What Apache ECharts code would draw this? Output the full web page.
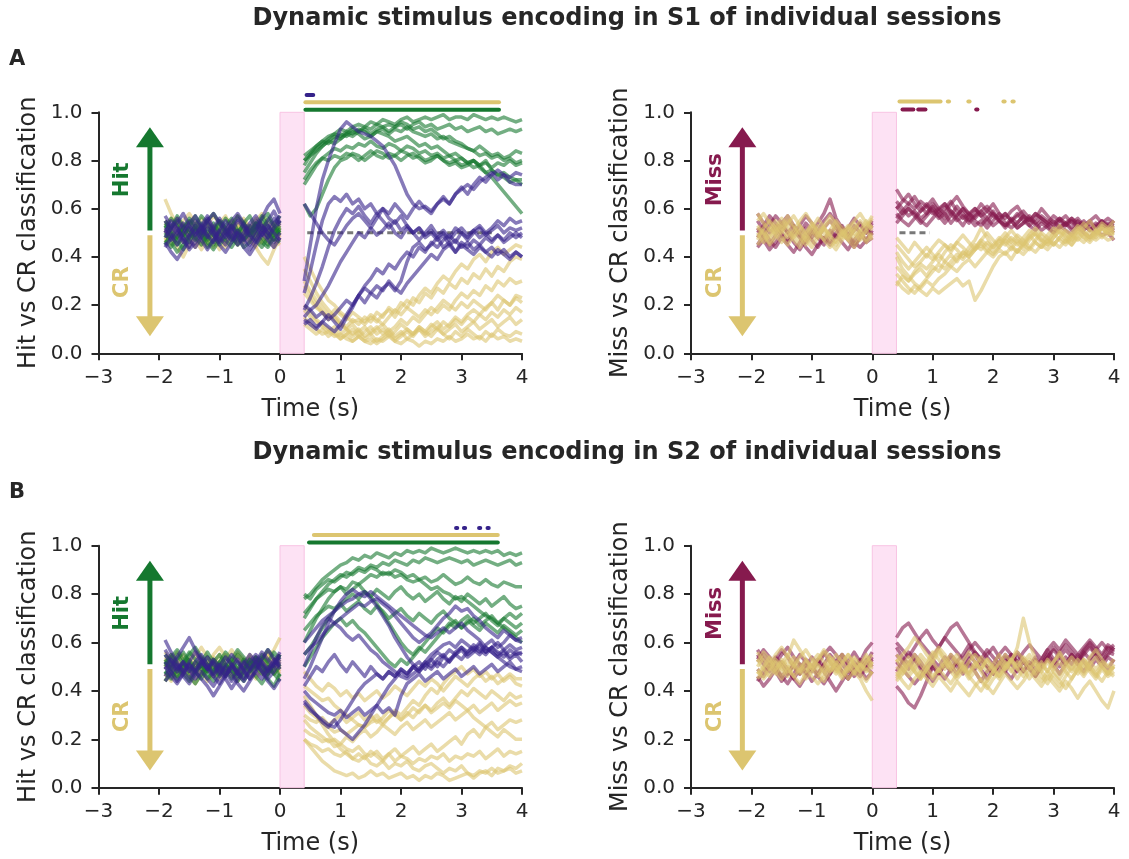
<!DOCTYPE html>
<html>
<head>
<meta charset="utf-8">
<script src="https://cdn.jsdelivr.net/npm/echarts@6/dist/echarts.min.js"></script>
<style>
  html, body { margin: 0; padding: 0; background: #fff; }
  #chart { width: 1129px; height: 859px; }
</style>
</head>
<body>
<div id="chart"></div>
<script>
// time grids (s): before stimulus and after the 0-0.4 s window
const T_PRE = [-1.9,-1.8,-1.7,-1.6,-1.5,-1.4,-1.3,-1.2,-1.1,-1.0,-0.9,-0.8,-0.7,-0.6,-0.5,-0.4,-0.3,-0.2,-0.1,0];
const T_POST = [0.4,0.5,0.6,0.7,0.8,0.9,1.0,1.1,1.2,1.3,1.4,1.5,1.6,1.7,1.8,1.9,2.0,2.1,2.2,2.3,2.4,2.5,2.6,2.7,2.8,2.9,3.0,3.1,3.2,3.3,3.4,3.5,3.6,3.7,3.8,3.9,4.0];

// values are classification in percent
// ---- S1, Hit vs CR
const S1_HIT_GREEN_PRE = [
  [48,52,55,50,46,51,54,49,45,50,53,56,51,47,50,54,52,48,51,55],
  [53,49,45,48,53,57,52,47,50,55,51,46,49,54,57,52,48,45,50,53],
  [45,50,47,43,48,52,49,44,47,52,56,53,48,44,46,51,55,50,47,52],
  [55,52,57,53,50,47,51,55,58,54,50,53,57,54,49,52,56,58,53,57],
  [50,46,42,45,49,53,50,46,43,47,51,48,45,49,53,50,46,44,48,46],
  [52,56,53,49,52,48,45,49,54,50,47,44,48,52,49,53,57,53,49,51],
  [47,44,48,52,55,51,48,52,49,45,48,53,50,54,51,47,44,48,52,49],
  [54,51,48,52,56,53,57,54,51,55,52,48,51,47,50,54,51,56,53,50]
];
const S1_HIT_GREEN_POST = [
  [80,83,86,88,90,91,93,92,94,95,94,96,95,97,96,95,97,98,96,97,98,97,98,99,97,98,98,97,99,98,97,98,97,98,97,96,97],
  [75,79,83,86,88,90,89,91,93,92,94,93,95,94,92,94,95,93,95,96,94,95,93,94,95,93,94,92,93,94,92,93,91,92,93,92,93],
  [78,82,85,87,89,91,90,92,91,93,92,90,92,93,91,93,92,94,92,91,90,91,89,90,88,87,86,85,84,82,83,81,82,80,81,79,80],
  [70,74,78,81,83,85,84,86,85,87,86,88,86,85,87,86,84,86,85,83,84,82,83,81,82,80,81,79,80,78,79,77,79,78,80,78,79],
  [62,57,60,66,72,77,80,81,83,82,80,82,84,83,81,82,80,82,83,81,79,80,82,80,78,79,77,78,80,77,75,76,74,75,73,72,72],
  [82,84,86,88,87,89,91,90,92,91,89,90,92,91,90,88,89,90,88,86,87,85,86,84,82,83,81,79,80,78,75,73,70,67,64,61,58],
  [72,76,79,81,80,82,81,83,82,80,82,84,82,81,83,82,84,83,81,82,80,81,82,80,79,80,78,79,77,78,80,76,74,73,71,72,70],
  [80,82,84,86,88,87,89,91,90,92,93,91,93,94,95,94,96,95,93,94,92,93,91,89,90,88,87,85,84,86,84,82,83,81,82,84,83]
];
const S1_HIT_PURPLE_PRE = [
  [50,55,52,48,44,49,53,57,52,48,45,50,55,52,47,51,56,61,64,58],
  [46,42,39,43,47,44,48,52,49,45,42,46,50,47,43,47,51,48,52,55],
  [55,51,54,58,53,49,52,56,51,47,51,55,58,54,50,53,49,52,56,53],
  [44,48,52,47,43,46,50,54,50,46,49,53,49,44,41,45,49,53,50,47],
  [52,49,45,50,54,57,53,49,46,51,55,51,47,50,54,57,53,50,46,50],
  [57,53,50,46,49,53,50,55,58,54,50,47,51,48,45,49,53,50,54,57],
  [48,52,56,52,48,51,47,43,47,51,48,52,56,53,49,46,50,47,44,48],
  [51,47,50,54,51,55,52,48,52,56,52,49,45,48,52,55,51,55,59,54]
];
const S1_HIT_PURPLE_POST = [
  [30,45,60,72,80,87,93,96,94,92,91,90,88,86,82,78,72,66,62,60,61,59,62,64,62,66,68,70,68,71,73,75,72,74,71,70,70],
  [62,58,54,50,47,45,49,53,56,58,55,52,56,60,58,62,59,56,60,63,60,58,62,65,62,66,69,66,70,73,71,74,76,74,73,75,74],
  [15,18,20,24,28,33,38,42,46,50,48,52,49,51,54,50,48,52,50,47,50,53,49,51,48,52,50,47,50,52,49,51,53,50,52,51,52],
  [20,18,15,17,14,16,19,22,20,24,21,25,23,27,29,26,30,38,44,46,43,45,48,44,46,42,45,43,41,44,42,40,43,41,39,42,40],
  [12,14,11,13,16,13,10,15,19,24,28,31,35,33,37,35,39,42,40,44,42,46,44,47,49,46,50,48,51,53,50,52,55,53,56,54,55],
  [18,23,29,36,44,51,56,60,58,61,57,54,58,55,52,55,51,53,50,52,49,51,48,50,47,50,52,49,51,48,50,47,49,46,48,50,48],
  [25,34,45,55,62,65,63,66,62,64,60,62,58,60,56,54,57,53,50,52,48,50,47,49,45,47,44,46,43,45,42,44,41,43,40,42,40],
  [14,12,10,13,11,9,12,16,20,24,27,25,28,26,30,27,25,29,32,35,38,41,39,43,45,42,46,44,47,45,48,46,49,47,50,48,50]
];
const S1_HIT_YELLOW_PRE = [
  [64,58,53,49,52,48,45,49,53,50,46,50,54,51,47,44,40,37,43,48],
  [50,53,49,46,50,54,51,47,44,48,52,49,53,56,52,49,46,50,47,51],
  [46,50,54,51,55,52,49,53,50,47,51,55,52,48,51,55,58,54,51,53],
  [52,48,44,40,45,49,46,50,47,43,46,50,47,51,48,44,47,51,49,52],
  [55,52,56,53,49,52,56,53,57,54,50,53,49,46,50,53,50,46,50,54],
  [48,45,49,53,50,47,43,47,51,48,52,48,45,49,46,50,54,50,47,45],
  [53,56,52,49,53,49,52,55,51,48,44,48,52,55,52,56,52,49,52,48],
  [47,51,48,52,48,44,48,45,49,52,49,53,57,53,50,47,51,48,44,50],
  [51,47,51,55,58,54,51,47,50,54,57,52,48,51,47,50,46,50,54,51]
];
const S1_HIT_YELLOW_POST = [
  [40,35,30,26,22,20,17,15,13,14,12,15,13,16,18,15,19,22,20,24,27,25,29,32,30,34,37,35,39,41,38,42,44,41,43,45,44],
  [30,26,22,19,16,14,12,10,12,9,11,8,10,12,9,11,14,12,15,13,16,19,17,20,18,22,25,23,26,24,28,26,30,28,31,29,30],
  [20,17,14,12,10,8,6,8,5,7,5,6,4,6,8,5,7,9,7,10,8,11,13,10,12,15,13,16,18,16,19,21,18,22,20,24,23],
  [15,12,10,8,9,7,8,6,5,7,5,4,6,5,7,5,4,6,5,3,5,4,6,5,7,5,6,8,6,7,5,8,6,7,5,6,5],
  [25,22,19,17,15,18,16,14,17,15,13,16,14,12,15,18,16,19,17,15,18,16,19,22,20,18,21,19,22,20,18,21,24,22,20,23,21],
  [35,30,25,21,18,15,12,10,8,10,7,9,11,8,10,7,9,6,8,10,7,9,11,8,10,12,9,11,13,10,12,14,11,13,15,12,14],
  [12,10,8,10,7,9,6,8,10,7,9,11,8,10,7,9,12,10,8,11,9,7,10,8,6,9,7,10,8,6,9,7,10,8,7,9,8],
  [28,24,20,17,14,16,13,11,14,12,15,13,17,15,19,17,21,19,23,21,25,23,27,25,29,27,31,29,33,31,35,32,36,34,38,40,39],
  [18,15,13,11,9,11,8,10,7,9,6,8,5,7,9,6,8,10,8,11,9,12,10,13,11,14,12,15,13,16,14,17,15,18,16,19,17]
];

// ---- S1, Miss vs CR
const S1_MISS_MAROON_PRE = [
  [52,48,45,49,53,50,46,43,47,51,48,45,49,53,50,47,44,48,52,55],
  [45,49,53,57,54,50,53,49,46,50,54,58,64,56,52,49,53,50,47,51],
  [55,51,47,44,48,45,42,46,50,47,44,48,45,49,46,43,47,50,46,48],
  [48,52,55,51,54,57,53,50,54,51,48,52,55,52,49,52,56,53,50,54],
  [58,54,50,53,49,46,50,53,57,54,50,47,51,48,52,49,45,48,52,49],
  [44,47,43,46,50,47,51,48,44,41,45,48,46,50,53,49,46,44,47,50],
  [50,53,57,54,51,55,52,49,52,48,51,55,58,54,51,48,51,54,50,53]
];
const S1_MISS_MAROON_POST = [
  [68,64,62,60,63,61,58,60,62,59,57,60,58,56,59,61,58,56,58,55,57,59,56,54,57,55,53,56,54,52,55,53,51,54,52,53,55],
  [60,63,66,62,59,61,64,60,58,62,65,61,58,60,57,59,62,58,56,59,61,57,55,58,56,54,57,55,53,56,54,52,55,57,54,52,53],
  [56,59,62,65,61,58,62,59,56,59,56,53,57,60,57,54,58,55,52,55,58,55,53,56,60,57,54,56,53,55,52,54,51,53,55,52,50],
  [63,60,57,59,56,58,61,57,60,63,59,56,58,55,53,56,59,55,53,55,52,54,57,54,51,53,55,52,54,56,53,51,54,52,55,53,51],
  [54,57,60,58,55,53,56,59,62,58,55,57,54,57,59,56,53,55,58,55,52,54,56,53,55,53,50,52,54,51,53,55,52,50,52,54,53],
  [58,55,53,56,59,62,59,56,58,54,57,60,56,53,55,52,55,58,54,52,54,57,53,51,54,52,50,53,51,49,52,50,48,51,49,50,47],
  [61,58,60,57,54,57,60,57,54,57,61,58,55,58,62,59,57,55,53,56,54,57,55,58,56,54,52,55,57,54,56,53,55,52,54,56,54]
];
const S1_MISS_YELLOW_PRE = [
  [58,54,51,55,52,48,51,55,58,54,50,53,57,54,50,47,51,55,52,56],
  [47,51,48,52,56,53,49,46,50,53,49,52,48,45,49,52,48,51,47,50],
  [52,49,45,48,51,55,52,48,45,49,53,50,46,43,47,50,54,51,55,52],
  [45,48,52,49,46,50,47,44,48,52,56,52,49,53,50,47,44,48,51,47],
  [55,58,54,50,53,57,53,50,47,51,48,52,55,51,48,52,55,58,54,51],
  [50,46,49,53,50,54,57,53,49,46,50,47,44,47,51,48,52,49,46,49],
  [48,52,55,52,48,45,49,53,50,54,51,47,51,55,52,49,46,50,53,57],
  [53,50,46,50,54,51,48,51,47,44,48,52,49,46,50,53,50,47,51,53]
];
const S1_MISS_YELLOW_POST = [
  [30,27,25,28,26,24,27,25,27,29,31,28,30,22,26,31,36,40,42,39,43,41,44,42,45,43,46,44,47,45,48,46,49,47,49,47,48],
  [40,35,32,29,27,30,28,31,33,36,34,37,39,36,39,42,40,43,41,44,42,45,43,46,44,47,45,48,46,49,47,50,48,51,49,52,50],
  [45,42,39,36,38,41,39,42,45,43,46,44,41,44,47,45,42,45,48,46,49,47,44,47,50,48,45,48,51,49,52,50,47,50,53,51,52],
  [28,32,30,33,35,32,36,34,38,41,38,42,40,43,45,42,45,48,46,43,47,45,48,50,47,45,48,51,49,47,50,48,51,49,52,50,51],
  [48,45,42,46,43,40,44,47,45,42,46,49,46,43,47,50,47,44,48,51,48,45,49,52,49,46,50,53,50,47,51,54,51,48,52,50,49],
  [36,33,30,34,37,35,38,41,38,36,39,42,40,43,46,43,41,44,47,45,42,46,49,46,44,47,50,47,45,48,51,48,46,49,52,49,50],
  [42,38,35,38,41,44,41,38,42,45,43,40,44,47,52,48,44,47,45,48,46,43,47,50,47,45,48,51,48,45,49,52,55,51,48,51,53],
  [33,30,27,25,28,31,34,37,35,38,41,39,42,45,43,46,44,47,50,47,45,48,51,49,46,49,52,50,47,50,53,51,48,51,54,52,55]
];

// ---- S2, Hit vs CR
const S2_HIT_GREEN_PRE = [
  [52,49,53,56,52,48,45,49,53,50,54,51,47,44,48,52,49,45,42,47],
  [47,51,55,51,48,52,49,45,48,52,56,53,49,46,50,54,51,48,51,55],
  [55,52,48,51,55,58,54,51,47,50,47,51,55,52,48,51,55,52,56,53],
  [44,48,45,49,46,43,47,51,48,52,49,45,49,53,50,46,43,47,50,46],
  [50,54,57,53,50,47,51,48,52,55,51,48,44,48,52,49,53,57,54,50],
  [53,49,46,50,53,49,52,56,52,49,46,50,46,49,53,50,47,50,47,44],
  [48,45,49,52,56,53,50,54,50,46,50,53,57,54,50,54,51,47,51,55],
  [51,55,51,47,44,48,51,47,44,48,51,48,52,49,53,50,54,51,47,50]
];
const S2_HIT_GREEN_POST = [
  [78,80,83,86,88,90,92,93,95,94,96,95,97,96,95,97,96,98,97,98,97,99,98,97,98,99,98,97,98,97,98,97,98,96,97,96,97],
  [70,74,78,81,84,86,88,87,89,91,90,92,91,93,92,94,93,92,94,93,95,94,93,94,95,94,93,94,92,93,94,93,92,93,94,92,93],
  [60,65,70,74,78,81,83,82,85,84,86,88,87,89,88,90,89,87,88,86,87,85,86,88,86,84,85,87,85,84,86,84,83,85,84,83,83],
  [72,75,78,80,82,81,83,80,82,84,81,79,82,80,78,81,83,80,78,80,77,79,81,78,76,79,77,80,78,76,78,75,77,79,76,74,75],
  [55,58,62,66,70,73,76,78,80,78,81,79,76,72,68,64,60,57,55,58,56,59,62,65,68,66,69,71,68,70,72,69,67,70,68,66,68],
  [65,68,71,73,75,74,76,73,75,77,74,72,75,73,70,72,74,71,69,72,70,68,71,73,70,68,66,69,67,65,68,66,64,67,65,63,65],
  [80,78,82,84,86,85,87,89,88,90,89,91,90,88,89,87,88,86,85,86,84,82,83,81,80,78,79,77,75,73,71,70,68,66,64,62,60],
  [50,54,58,62,65,68,70,67,69,66,64,61,58,55,52,50,53,51,54,57,60,63,66,64,67,69,66,68,70,67,69,71,68,70,72,70,72]
];
const S2_HIT_PURPLE_PRE = [
  [61,56,52,48,45,49,53,50,46,43,47,51,48,45,49,53,50,47,51,55],
  [46,50,54,58,62,57,53,49,52,48,45,41,45,48,52,55,52,48,51,54],
  [52,48,44,47,51,48,45,42,38,42,46,50,47,44,48,51,48,44,41,45],
  [49,53,50,46,43,47,51,54,51,47,51,55,52,48,45,49,53,57,53,49],
  [55,51,48,52,49,45,48,45,42,46,50,47,43,40,44,48,45,49,52,56],
  [44,47,51,48,52,56,52,49,53,50,54,51,47,51,55,52,56,53,50,53],
  [50,46,43,47,51,48,52,49,46,50,46,50,53,49,45,48,52,49,53,50],
  [57,53,49,52,48,52,55,51,47,51,48,44,48,52,49,52,48,45,48,52]
];
const S2_HIT_PURPLE_POST = [
  [45,50,56,62,68,73,77,80,82,80,81,78,75,71,67,62,58,54,51,49,52,50,53,55,52,56,58,55,57,60,56,58,55,57,54,56,55],
  [35,32,30,27,25,28,24,22,20,23,26,30,34,38,42,45,48,46,50,48,51,53,50,54,52,55,57,54,56,59,56,58,60,57,59,57,58],
  [55,58,60,63,66,68,70,72,74,76,75,77,78,76,74,71,68,65,62,60,62,64,67,70,72,75,73,74,71,69,66,64,62,65,63,61,60],
  [40,37,35,33,31,30,32,29,31,33,30,32,34,31,33,30,38,43,45,47,44,46,48,45,47,49,46,48,50,47,49,51,48,50,52,49,50],
  [50,56,62,67,70,68,66,63,61,63,60,57,55,52,50,48,46,45,47,49,52,55,57,59,60,58,61,59,57,55,58,56,54,56,53,55,52],
  [36,33,30,28,26,25,28,32,36,40,43,45,47,45,48,46,49,47,50,48,51,49,52,50,53,55,53,56,58,56,59,61,58,60,63,61,62],
  [60,63,66,69,71,73,75,77,78,80,79,81,79,77,75,73,71,69,67,65,63,62,64,66,64,66,68,65,63,61,58,56,54,52,50,49,48],
  [42,46,50,48,52,55,51,48,52,49,46,50,47,45,48,46,49,47,50,52,49,53,56,54,57,55,58,56,59,57,55,58,56,54,57,55,56]
];
const S2_HIT_YELLOW_PRE = [
  [49,52,56,53,49,52,48,51,55,58,54,51,48,52,49,46,50,54,57,62],
  [53,50,46,49,53,56,52,49,53,50,47,51,55,52,48,45,49,52,49,53],
  [46,49,53,50,46,43,47,50,46,49,53,57,53,50,54,51,47,50,53,49],
  [56,52,48,51,47,50,54,51,48,45,49,52,48,51,55,52,49,53,50,47],
  [50,54,51,55,52,48,51,48,51,55,51,48,44,48,52,49,52,56,52,55],
  [44,48,52,49,53,50,47,50,54,50,47,51,54,51,47,50,53,50,47,51],
  [52,55,51,48,51,54,58,54,50,47,50,46,49,53,49,53,50,47,51,48],
  [47,44,48,51,48,45,48,52,49,52,55,52,56,53,50,54,51,55,52,49],
  [54,51,47,50,47,51,48,44,47,51,48,51,47,50,54,51,48,51,48,52]
];
const S2_HIT_YELLOW_POST = [
  [48,45,42,40,43,41,38,40,37,39,36,38,40,37,39,42,40,38,41,44,42,45,43,40,43,46,44,42,45,47,44,46,43,45,47,45,45],
  [28,25,23,21,19,20,18,21,19,22,24,21,23,26,24,22,25,27,24,26,28,25,27,29,31,28,30,32,34,31,33,35,32,34,36,34,35],
  [20,18,17,15,16,14,13,15,12,11,13,10,9,11,8,10,9,11,8,7,9,10,8,6,8,7,9,6,5,7,6,8,6,7,8,6,7],
  [38,34,30,26,22,19,16,14,12,14,12,15,13,11,14,16,13,15,17,14,16,18,15,17,19,21,18,22,24,21,25,27,24,26,28,27,28],
  [30,28,27,29,26,28,30,27,29,31,28,30,27,29,32,30,28,31,29,32,34,31,33,35,33,36,34,32,29,27,25,23,21,24,22,20,20],
  [24,22,21,19,20,17,18,16,15,17,14,13,15,12,14,11,13,12,10,12,11,13,12,14,11,13,12,14,13,15,12,14,16,13,15,14,15],
  [42,40,38,36,37,34,32,30,28,26,25,27,28,26,29,31,28,30,33,31,34,32,35,37,34,37,40,38,41,39,37,40,38,36,39,37,38],
  [20,17,14,11,9,7,6,5,6,4,5,7,5,6,4,5,6,4,5,3,5,4,6,5,3,4,5,6,4,6,7,5,8,7,9,8,10],
  [34,31,29,27,25,23,24,22,24,26,25,28,30,27,29,32,30,33,36,34,38,41,39,43,46,48,50,47,49,46,48,45,47,44,46,43,42]
];

// ---- S2, Miss vs CR
const S2_MISS_MAROON_PRE = [
  [53,57,54,50,46,49,45,42,46,50,47,51,48,52,55,51,48,52,57,60],
  [46,42,45,49,46,43,47,51,48,44,47,51,55,52,48,45,49,46,50,47],
  [57,53,50,54,51,47,51,55,52,49,52,48,44,40,44,48,51,48,52,56],
  [49,46,50,53,57,54,50,47,51,48,52,56,52,49,53,50,46,49,53,50],
  [52,55,52,48,44,47,51,47,50,54,51,55,58,55,51,48,52,49,45,48],
  [44,48,51,48,52,49,45,49,53,50,46,43,47,51,48,45,49,53,50,54],
  [55,51,48,51,55,58,54,51,47,50,53,50,47,51,55,52,56,52,49,53]
];
const S2_MISS_MAROON_POST = [
  [62,66,68,64,60,57,54,58,62,59,56,53,57,60,57,54,51,55,58,55,52,56,59,56,53,57,60,57,61,58,55,58,61,58,55,59,57],
  [42,39,35,33,38,44,50,47,51,55,52,48,52,49,53,50,47,51,54,51,48,52,49,46,50,53,50,54,57,54,51,55,58,55,52,56,55],
  [60,57,54,58,62,65,61,58,62,66,68,64,60,56,53,57,54,51,55,52,56,53,50,54,51,55,52,56,59,56,53,57,60,57,54,58,56],
  [55,52,49,53,50,47,51,48,45,49,52,49,53,56,53,50,47,51,48,52,55,52,49,53,50,54,57,54,51,55,52,56,59,55,52,55,58],
  [48,52,56,53,49,46,50,47,51,54,50,47,51,48,44,48,51,48,52,55,51,48,52,49,53,57,53,50,54,51,55,52,49,53,50,54,52],
  [58,54,51,55,52,48,44,48,51,48,52,55,59,55,51,55,58,54,51,55,52,48,51,47,51,54,51,47,51,55,52,56,53,57,60,57,59],
  [52,49,46,43,46,50,53,50,54,51,47,51,55,52,49,45,49,52,48,45,49,53,50,46,50,54,58,55,51,54,51,48,52,55,52,49,53]
];
const S2_MISS_YELLOW_PRE = [
  [50,54,51,55,58,54,61,57,53,50,53,57,54,50,46,50,47,51,48,52],
  [47,50,54,51,47,50,46,49,53,49,46,50,54,51,55,52,48,45,40,36],
  [53,49,46,49,53,50,54,51,48,52,55,52,48,51,47,50,54,51,55,51],
  [45,49,52,48,45,49,46,43,47,51,48,44,48,52,49,45,48,51,49,47],
  [56,52,49,53,50,46,50,54,57,53,50,47,51,55,52,55,51,48,52,55],
  [49,46,50,47,51,55,51,48,52,49,53,56,52,48,52,48,51,47,44,48],
  [52,56,53,49,52,48,52,49,45,48,51,48,52,49,45,49,53,50,54,50],
  [48,45,48,52,49,53,50,47,50,46,43,46,50,47,51,55,51,48,52,49]
];
const S2_MISS_YELLOW_POST = [
  [45,49,52,48,45,49,53,57,53,50,46,50,47,51,48,44,48,52,49,53,56,53,49,52,48,45,49,52,48,45,49,53,50,47,51,48,50],
  [52,55,58,62,59,55,52,56,52,49,53,50,47,50,54,51,48,51,55,52,58,70,60,53,49,53,50,47,51,54,51,48,52,49,52,50,49],
  [48,44,41,45,48,45,42,46,43,40,44,41,38,42,45,42,39,43,47,44,41,44,48,45,42,46,43,40,44,41,37,41,44,40,36,33,40],
  [55,52,48,51,55,52,56,53,49,52,55,51,48,52,49,53,50,46,50,53,50,54,51,47,51,48,52,56,52,49,53,50,54,57,53,50,53],
  [50,47,51,55,51,48,45,49,46,43,47,50,46,43,40,44,48,45,49,52,49,46,50,47,44,48,45,42,46,50,47,51,48,45,49,46,48],
  [46,50,54,50,47,51,55,58,55,51,48,52,56,52,49,53,49,46,50,53,49,52,55,51,48,52,48,45,49,52,49,53,49,46,50,47,51],
  [53,49,46,49,53,50,46,49,52,48,45,48,52,55,52,48,51,55,51,48,52,49,45,49,52,48,52,55,51,48,51,47,51,54,50,47,50],
  [44,47,51,48,45,49,52,48,51,55,52,49,45,48,44,41,45,48,52,49,45,49,53,50,46,43,47,44,41,45,49,46,50,47,44,48,46]
];

// significant time windows (s), drawn above each panel
const SIG_S1_HIT_GREEN = [[0.42, 3.62]];
const SIG_S1_HIT_YELLOW = [[0.42, 3.62]];
const SIG_S1_HIT_PURPLE = [[0.44, 0.55]];
const SIG_S1_MISS_YELLOW = [[0.45, 1.13], [1.25, 1.27], [1.59, 1.61], [2.17, 2.19], [2.32, 2.34]];
const SIG_S1_MISS_MAROON = [[0.5, 0.68], [0.76, 0.88], [1.72, 1.74]];
const SIG_S2_HIT_GREEN = [[0.48, 3.6]];
const SIG_S2_HIT_YELLOW = [[0.56, 3.6]];
const SIG_S2_HIT_PURPLE = [[2.91, 2.93], [3.04, 3.06], [3.29, 3.31], [3.43, 3.45]];

const FONT = 'DejaVu Sans';
const INK = '#262626';
const GREEN = '#15782f';
const PURPLE = '#35228a';
const YELLOW = '#dcc570';
const MAROON = '#861a4e';

const grids = [
  { left: 98.5, top: 112.3, width: 423.5, height: 241 },
  { left: 691, top: 112.3, width: 423, height: 241 },
  { left: 98.5, top: 545.7, width: 423.5, height: 242 },
  { left: 691, top: 545.7, width: 423, height: 242 }
];
const yNames = ['Hit vs CR classification', 'Miss vs CR classification',
                'Hit vs CR classification', 'Miss vs CR classification'];

const base = { silent: true, animation: false };

function traces(gi, pre, post, color) {
  const out = [];
  pre.concat(post).forEach((vals, k) => {
    const ts = k < pre.length ? T_PRE : T_POST;
    out.push(Object.assign({
      type: 'line', xAxisIndex: gi, yAxisIndex: gi, z: 2,
      symbol: 'none', showSymbol: false,
      data: vals.slice(0, ts.length).map((v, i) => [ts[i], v / 100]),
      lineStyle: { color: color, width: 3.5, opacity: 0.6, join: 'round' }
    }, base));
  });
  return out;
}

function sig(gi, spans, level, color, w) {
  return spans.map(s => Object.assign({
    type: 'line', xAxisIndex: gi, yAxisIndex: gi, z: 3, clip: false,
    symbol: 'none', data: [[s[0], level], [s[1], level]],
    lineStyle: { color: color, width: w, cap: 'round' }
  }, base));
}

function arrow(gi, color, up) {
  const from = up ? 0.51 : 0.49;
  const to = up ? 0.896 : 0.112;
  return Object.assign({
    type: 'line', xAxisIndex: gi, yAxisIndex: gi, z: 4,
    symbol: 'none', showSymbol: true, showAllSymbol: true,
    data: [
      { value: [-2.15, from] },
      { value: [-2.15, to], symbol: 'triangle', symbolSize: [28, 20], symbolRotate: up ? 0 : 180 }
    ],
    lineStyle: { color: color, width: 5 },
    itemStyle: { color: color }
  }, base);
}

function tag(gi, text, y, color) {
  return Object.assign({
    type: 'scatter', xAxisIndex: gi, yAxisIndex: gi, z: 4,
    symbolSize: 1, itemStyle: { color: 'transparent', opacity: 1 },
    data: [[-2.6, y]],
    label: { show: true, position: 'inside', formatter: text, rotate: 90, opacity: 1,
             fontFamily: FONT, fontWeight: 'bold', fontSize: 21, color: color }
  }, base);
}

function stimBox(gi) {
  return Object.assign({
    type: 'line', xAxisIndex: gi, yAxisIndex: gi, z: 1, symbol: 'none',
    data: [],
    markArea: {
      silent: true,
      itemStyle: { color: '#fde2f4', borderColor: '#f8c3e3', borderWidth: 1 },
      data: [[{ xAxis: 0, yAxis: 0 }, { xAxis: 0.4, yAxis: 1 }]]
    }
  }, base);
}

function chance(gi, x0, x1) {
  return Object.assign({
    type: 'line', xAxisIndex: gi, yAxisIndex: gi, z: 2, symbol: 'none',
    data: [[x0, 0.5], [x1, 0.5]],
    lineStyle: { color: '#606060', width: 3, type: [6, 4], opacity: 0.85 }
  }, base);
}

const series = [].concat(
  // panel A left
  stimBox(0),
  traces(0, S1_HIT_YELLOW_PRE, S1_HIT_YELLOW_POST, YELLOW),
  traces(0, S1_HIT_GREEN_PRE, S1_HIT_GREEN_POST, GREEN),
  chance(0, 0.45, 3.5),
  traces(0, S1_HIT_PURPLE_PRE, S1_HIT_PURPLE_POST, PURPLE),
  sig(0, SIG_S1_HIT_GREEN, 1.011, GREEN, 4),
  sig(0, SIG_S1_HIT_YELLOW, 1.042, YELLOW, 4),
  sig(0, SIG_S1_HIT_PURPLE, 1.072, PURPLE, 4),
  arrow(0, GREEN, true), arrow(0, YELLOW, false),
  tag(0, 'Hit', 0.72, GREEN), tag(0, 'CR', 0.295, YELLOW),
  // panel A right
  stimBox(1),
  chance(1, 0.45, 0.95),
  traces(1, S1_MISS_MAROON_PRE, S1_MISS_MAROON_POST, MAROON),
  traces(1, S1_MISS_YELLOW_PRE, S1_MISS_YELLOW_POST, YELLOW),
  sig(1, SIG_S1_MISS_YELLOW, 1.045, YELLOW, 4),
  sig(1, SIG_S1_MISS_MAROON, 1.012, MAROON, 4),
  arrow(1, MAROON, true), arrow(1, YELLOW, false),
  tag(1, 'Miss', 0.72, MAROON), tag(1, 'CR', 0.295, YELLOW),
  // panel B left
  stimBox(2),
  traces(2, S2_HIT_YELLOW_PRE, S2_HIT_YELLOW_POST, YELLOW),
  traces(2, S2_HIT_GREEN_PRE, S2_HIT_GREEN_POST, GREEN),
  traces(2, S2_HIT_PURPLE_PRE, S2_HIT_PURPLE_POST, PURPLE),
  sig(2, SIG_S2_HIT_GREEN, 1.013, GREEN, 4),
  sig(2, SIG_S2_HIT_YELLOW, 1.044, YELLOW, 4),
  sig(2, SIG_S2_HIT_PURPLE, 1.073, PURPLE, 4),
  arrow(2, GREEN, true), arrow(2, YELLOW, false),
  tag(2, 'Hit', 0.72, GREEN), tag(2, 'CR', 0.295, YELLOW),
  // panel B right
  stimBox(3),
  traces(3, S2_MISS_MAROON_PRE, S2_MISS_MAROON_POST, MAROON),
  traces(3, S2_MISS_YELLOW_PRE, S2_MISS_YELLOW_POST, YELLOW),
  arrow(3, MAROON, true), arrow(3, YELLOW, false),
  tag(3, 'Miss', 0.72, MAROON), tag(3, 'CR', 0.295, YELLOW)
);

const xAxes = grids.map((g, i) => ({
  gridIndex: i, type: 'value', min: -3, max: 4, interval: 1,
  name: 'Time (s)', nameLocation: 'middle', nameGap: 44,
  nameTextStyle: { fontFamily: FONT, fontSize: 24, color: INK },
  axisLine: { onZero: false, lineStyle: { color: INK, width: 2 } },
  axisTick: { length: 7, lineStyle: { color: INK, width: 2 } },
  axisLabel: { fontFamily: FONT, fontSize: 20, color: INK, margin: 14,
               formatter: v => v < 0 ? '\u2212' + (-v) : String(v) },
  splitLine: { show: false }
}));
const yAxes = grids.map((g, i) => ({
  gridIndex: i, type: 'value', min: 0, max: 1, interval: 0.2,
  name: yNames[i], nameLocation: 'middle', nameGap: 58,
  nameTextStyle: { fontFamily: FONT, fontSize: 24, color: INK },
  axisLine: { onZero: false, lineStyle: { color: INK, width: 2 } },
  axisTick: { length: 7, lineStyle: { color: INK, width: 2 } },
  axisLabel: { fontFamily: FONT, fontSize: 20, color: INK, margin: 16,
               formatter: v => v.toFixed(1) },
  splitLine: { show: false }
}));

function text(x, y, s, size, align) {
  return { type: 'text', x: x, y: y, silent: true,
    style: { text: s, fontFamily: FONT, fontWeight: 'bold', fontSize: size, fill: INK,
             textAlign: align, textVerticalAlign: 'middle' } };
}

const chart = echarts.init(document.getElementById('chart'), null, { renderer: 'canvas' });
chart.setOption({
  backgroundColor: '#fff',
  animation: false,
  grid: grids,
  xAxis: xAxes,
  yAxis: yAxes,
  series: series,
  graphic: [
    text(627, 19, 'Dynamic stimulus encoding in S1 of individual sessions', 24, 'center'),
    text(627, 453, 'Dynamic stimulus encoding in S2 of individual sessions', 24, 'center'),
    text(9, 60, 'A', 21, 'left'),
    text(9, 493, 'B', 21, 'left')
  ]
});
</script>
</body>
</html>
